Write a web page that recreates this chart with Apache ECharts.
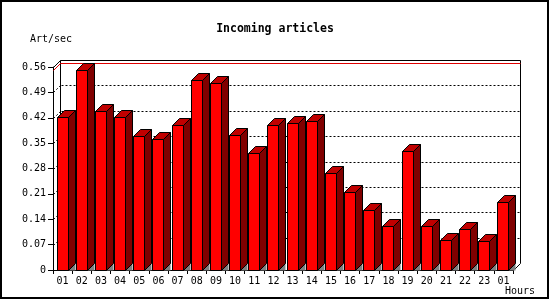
<!DOCTYPE html>
<html>
<head>
<meta charset="utf-8">
<script src="https://cdn.jsdelivr.net/npm/echarts@6/dist/echarts.min.js"></script>
<style>
html,body{margin:0;padding:0;background:#fff;}
#chart{width:550px;height:300px;}
</style>
</head>
<body>
<div id="chart"></div>
<script>
// ---- data ----
const titleText = 'Incoming articles';
const yAxisName = 'Art/sec';
const xAxisName = 'Hours';
const categories = ['01','02','03','04','05','06','07','08','09','10','11','12',
                    '13','14','15','16','17','18','19','20','21','22','23','01'];
const values = [0.423,0.552,0.440,0.421,0.369,0.361,0.399,0.523,0.515,0.372,0.322,0.399,
                0.405,0.410,0.267,0.214,0.165,0.122,0.327,0.122,0.082,0.112,0.079,0.187];
const yMin = 0;
const yMax = 0.56;
const yInterval = 0.07;
const gridValues = [0.07,0.14,0.21,0.28,0.35,0.42,0.49];
const maxValue = Math.max.apply(null, values);

// ---- style ----
const D = 7;              // 3D depth in px
const FONT = 'DejaVu Sans Mono';
const s = v => Math.round(v) + 0.5;

const chart = echarts.init(document.getElementById('chart'), null, {renderer:'canvas'});

function frameItem(params, api) {
  const cs = params.coordSys;
  const L = cs.x, T = cs.y, R = cs.x + cs.width, B = cs.y + cs.height;
  const st = {stroke:'#000', lineWidth:1, fill:null};
  return {type:'group', children:[
    {type:'polyline', shape:{points:[[s(L),s(T)],[s(L+D),s(T-D)],[s(R+D),s(T-D)],[s(R+D),s(B-D)],[s(R),s(B)]]}, style:st},
    {type:'line', shape:{x1:s(L+D),y1:s(T-D),x2:s(L+D),y2:s(B-D)}, style:st}
  ]};
}

function gridItem(params, api) {
  const cs = params.coordSys;
  const L = cs.x, R = cs.x + cs.width;
  const y = api.coord([0, api.value(0)])[1];
  const st = {stroke:'#000', lineWidth:1, lineDash:[2,2], fill:null};
  return {type:'group', children:[
    {type:'line', shape:{x1:s(L+D)+1,y1:s(y-D),x2:s(R+D),y2:s(y-D)}, style:st},
    {type:'line', shape:{x1:s(L),y1:s(y),x2:s(L+D),y2:s(y-D)}, style:st}
  ]};
}

function maxItem(params, api) {
  const cs = params.coordSys;
  const L = cs.x, R = cs.x + cs.width;
  const y = api.coord([0, api.value(0)])[1];
  return {type:'polyline', shape:{points:[[s(L),s(y)],[s(L+D),s(y-D)],[s(R+D),s(y-D)]]},
          style:{stroke:'#e00000', lineWidth:1, fill:null}};
}

function barItem(params, api) {
  const idx = api.value(0);
  const p = api.coord([idx, api.value(1)]);
  const b = api.coord([idx, 0]);
  const band = api.size([1, 0])[0];
  const w = Math.round(band * 0.58);
  const x0 = s(p[0] - w / 2 - 0.5), x1 = x0 + w;
  const yt = s(p[1]), yb = s(b[1]);
  const edge = {stroke:'#000', lineWidth:1};
  return {type:'group', children:[
    {type:'polygon', shape:{points:[[x1,yb],[x1+D,yb-D],[x1+D,yb]]},
     style:{fill:'#808080', stroke:'#808080', lineWidth:0}},
    {type:'polygon', shape:{points:[[x1,yt],[x1+D,yt-D],[x1+D,yb-D],[x1,yb]]},
     style:Object.assign({fill:'#800000'}, edge)},
    {type:'polygon', shape:{points:[[x0,yt],[x0+D,yt-D],[x1+D,yt-D],[x1,yt]]},
     style:Object.assign({fill:'#c00000'}, edge)},
    {type:'rect', shape:{x:x0, y:yt, width:w, height:yb-yt},
     style:Object.assign({fill:'#ff0000'}, edge)}
  ]};
}

const option = {
  backgroundColor:'#fff',
  animation:false,
  title:{
    text:titleText, left:'center', top:18,
    textStyle:{fontFamily:FONT, fontWeight:'bold', fontSize:11.5, color:'#000'}
  },
  grid:{left:53, right:37, top:67, bottom:30, containLabel:false},
  xAxis:{
    type:'category', data:categories, boundaryGap:true,
    name:xAxisName, nameLocation:'end', nameGap:-8,
    nameTextStyle:{fontFamily:FONT, fontSize:10, color:'#000', verticalAlign:'top', padding:[16,0,0,0]},
    axisLine:{lineStyle:{color:'#000', width:1}},
    axisTick:{show:true, length:4, lineStyle:{color:'#000'}},
    axisLabel:{fontFamily:FONT, fontSize:10, color:'#000', margin:6, interval:0},
    splitLine:{show:false}
  },
  yAxis:{
    type:'value', min:yMin, max:yMax, interval:yInterval,
    name:yAxisName, nameLocation:'end', nameGap:23,
    nameTextStyle:{fontFamily:FONT, fontSize:10, color:'#000', padding:[0,4,0,0]},
    axisLine:{show:true, lineStyle:{color:'#000', width:1}},
    axisTick:{show:true, length:5, lineStyle:{color:'#000'}},
    axisLabel:{fontFamily:FONT, fontSize:10, color:'#000', margin:7},
    splitLine:{show:false}
  },
  graphic:[{type:'rect', shape:{x:1, y:1, width:547, height:297},
            style:{fill:null, stroke:'#000', lineWidth:2}, silent:true, z:100}],
  series:[
    {type:'custom', name:'frame', renderItem:frameItem, data:[[0]], silent:true, clip:false},
    {type:'custom', name:'grid', renderItem:gridItem, data:gridValues.map(v=>[v]), encode:{y:0}, silent:true, clip:false},
    {type:'custom', name:'max', renderItem:maxItem, data:[[maxValue]], encode:{y:0}, silent:true, clip:false},
    {type:'custom', name:'Art/sec', renderItem:barItem,
     data:values.map((v,i)=>[i,v]), encode:{x:0, y:1}, clip:false}
  ]
};
chart.setOption(option);
</script>
</body>
</html>
